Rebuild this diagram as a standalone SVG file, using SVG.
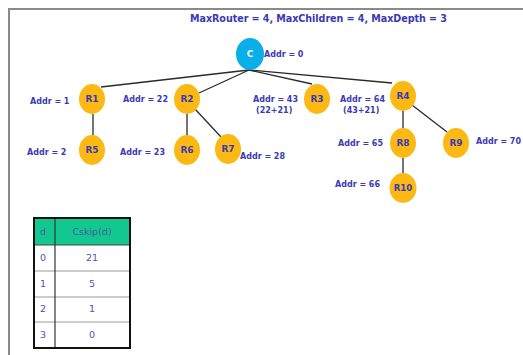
<svg xmlns="http://www.w3.org/2000/svg" width="523" height="355" viewBox="0 0 523 355">
<style>
.lbl{font-family:"DejaVu Sans",Verdana,sans-serif;font-weight:bold;font-size:8px;fill:#3a3ab4}
.nt{font-family:"DejaVu Sans",Verdana,sans-serif;font-weight:bold;font-size:9px;fill:#3a3ab4;text-anchor:middle;dominant-baseline:central}
.rn{fill:#fcb813}
.edge{stroke:#2a2a2a;stroke-width:1.3;fill:none}
.tt{font-family:"DejaVu Sans",Verdana,sans-serif;font-size:9.5px;fill:#5050c0;text-anchor:middle}
</style>
<rect width="523" height="355" fill="#fff"/>
<path d="M9 355V9H523" fill="none" stroke="#8a8a8a" stroke-width="2"/>
<text x="190" y="22" class="lbl" style="font-size:9.6px" textLength="257">MaxRouter = 4, MaxChildren  = 4, MaxDepth = 3</text>
<g id="connectors">
<line class="edge" x1="249" y1="70" x2="101" y2="87"/>
<line class="edge" x1="249" y1="70" x2="199" y2="93"/>
<line class="edge" x1="249" y1="70" x2="312" y2="84"/>
<line class="edge" x1="249" y1="70" x2="392" y2="83"/>
<line class="edge" x1="93" y1="114" x2="93" y2="135"/>
<line class="edge" x1="187" y1="114" x2="187" y2="135"/>
<line class="edge" x1="195" y1="109" x2="221" y2="137"/>
<line class="edge" x1="403" y1="111" x2="403" y2="128"/>
<line class="edge" x1="403" y1="158" x2="403" y2="173"/>
<line class="edge" x1="412" y1="105" x2="447" y2="132"/>
</g>
<g id="C"><ellipse cx="250" cy="54" rx="14" ry="16" fill="#0aaee8"/><text x="250" y="54" class="nt" style="fill:#fff">C</text><text x="264" y="57" class="lbl">Addr = 0</text></g>
<g id="R1"><ellipse class="rn" cx="92" cy="99" rx="13" ry="15"/><text x="92" y="99" class="nt">R1</text><text x="30" y="104" class="lbl">Addr = 1</text></g>
<g id="R2"><ellipse class="rn" cx="187" cy="99" rx="13" ry="15"/><text x="187" y="99" class="nt">R2</text><text x="123" y="102" class="lbl">Addr = 22</text></g>
<g id="R3"><ellipse class="rn" cx="317" cy="99" rx="13" ry="15"/><text x="317" y="99" class="nt">R3</text><text x="253" y="102" class="lbl">Addr = 43</text><text x="256" y="113" class="lbl">(22+21)</text></g>
<g id="R4"><ellipse class="rn" cx="403" cy="96" rx="13" ry="15"/><text x="403" y="96" class="nt">R4</text><text x="340" y="102" class="lbl">Addr = 64</text><text x="343" y="113" class="lbl">(43+21)</text></g>
<g id="R5"><ellipse class="rn" cx="92" cy="150" rx="13" ry="15"/><text x="92" y="150" class="nt">R5</text><text x="27" y="155" class="lbl">Addr = 2</text></g>
<g id="R6"><ellipse class="rn" cx="187" cy="150" rx="13" ry="15"/><text x="187" y="150" class="nt">R6</text><text x="120" y="155" class="lbl">Addr = 23</text></g>
<g id="R7"><ellipse class="rn" cx="228" cy="149" rx="13" ry="15"/><text x="228" y="149" class="nt">R7</text><text x="240" y="159" class="lbl">Addr = 28</text></g>
<g id="R8"><ellipse class="rn" cx="403" cy="143" rx="13" ry="15"/><text x="403" y="143" class="nt">R8</text><text x="338" y="146" class="lbl">Addr = 65</text></g>
<g id="R9"><ellipse class="rn" cx="456" cy="143" rx="13" ry="15"/><text x="456" y="143" class="nt">R9</text><text x="476" y="144" class="lbl">Addr = 70</text></g>
<g id="R10"><ellipse class="rn" cx="403" cy="188" rx="13.5" ry="15"/><text x="403" y="188" class="nt" style="font-size:8.6px">R10</text><text x="335" y="187" class="lbl">Addr = 66</text></g>
<g id="table">
<rect x="34" y="218" width="96" height="27" fill="#12c890"/>
<g stroke="#999" stroke-width="1">
<line x1="34" y1="271" x2="130" y2="271"/>
<line x1="34" y1="297" x2="130" y2="297"/>
<line x1="34" y1="322" x2="130" y2="322"/>
</g>
<line x1="34" y1="245" x2="130" y2="245" stroke="#444" stroke-width="1.2"/>
<line x1="55" y1="218" x2="55" y2="348" stroke="#333" stroke-width="1.2"/>
<rect x="34" y="218" width="96" height="130" fill="none" stroke="#111" stroke-width="2"/>
<text x="43" y="235" class="tt" style="fill:#4a5aa0">d</text><text x="92" y="235" class="tt" style="fill:#4a5aa0">Cskip(d)</text>
<text x="43" y="261" class="tt">0</text><text x="92" y="261" class="tt">21</text>
<text x="43" y="287" class="tt">1</text><text x="92" y="287" class="tt">5</text>
<text x="43" y="312" class="tt">2</text><text x="92" y="312" class="tt">1</text>
<text x="43" y="338" class="tt">3</text><text x="92" y="338" class="tt">0</text>
</g>
</svg>
